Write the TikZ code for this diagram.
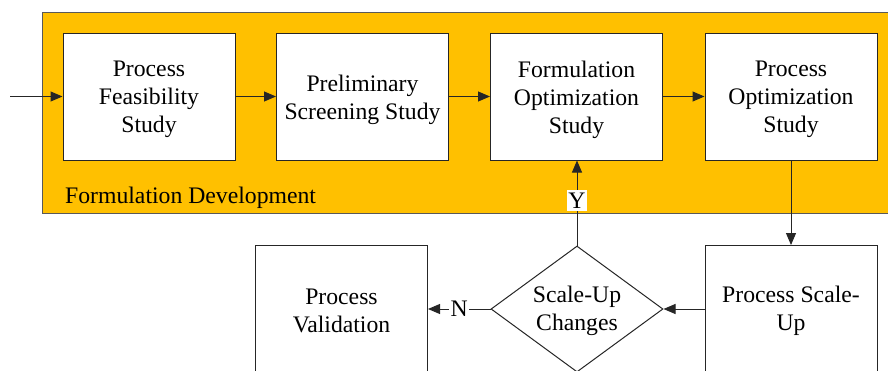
\documentclass[tikz,border=0pt]{standalone}
\usepackage{fontspec}
\setmainfont{Liberation Serif}
\usetikzlibrary{arrows.meta,shapes.geometric}
\definecolor{devorange}{HTML}{FFC000}
\tikzset{
  txt/.style={align=center, inner sep=0pt, font=\fontsize{23.7}{28}\selectfont},
  stepbox/.style={draw=black!85, fill=white, line width=1pt, minimum width=172pt, minimum height=127pt, inner sep=0pt},
  decision/.style={draw=black!85, fill=white, line width=1pt, diamond, minimum width=172pt, minimum height=126pt, inner sep=0pt},
  conn/.style={line width=1pt, draw=black!85, -{Triangle[length=12pt,width=10pt]}},
  tag/.style={fill=white, inner xsep=1.5pt, inner ysep=3pt, font=\fontsize{23.7}{28}\selectfont}
}
\begin{document}
\begin{tikzpicture}[x=1pt,y=-1pt]
\useasboundingbox (0,0) rectangle (888,370);
\clip (0,0) rectangle (888,370);
\node[draw=black!65, fill=devorange, line width=1pt, minimum width=870pt, minimum height=201pt, anchor=north west, inner sep=0pt] (dev) at (42,12) {};
\node[anchor=west, txt] (devlabel) at (65,198) {Formulation Development};
\node[stepbox, label={[txt, yshift=-3pt]center:Process\\Feasibility\\Study}] (b1) at (149,96.5) {};
\node[stepbox, label={[txt, yshift=-3pt]center:Preliminary\\Screening Study}] (b2) at (362.5,96.5) {};
\node[stepbox, label={[txt, yshift=-3pt]center:Formulation\\Optimization\\Study}] (b3) at (576.5,96.5) {};
\node[stepbox, label={[txt, yshift=-3pt]center:Process\\Optimization\\Study}] (b4) at (791,96.5) {};
\node[stepbox, label={[txt, yshift=-2pt]center:Process Scale-\\Up}] (su) at (791,309) {};
\node[stepbox, label={[txt, yshift=-2pt]center:Process\\Validation}] (pv) at (341.5,309) {};
\node[decision, label={[txt, yshift=-2pt]center:Scale-Up\\Changes}] (dia) at (577,309) {};
\coordinate (in) at (10,96.5);
\draw[conn] (in) -- (b1.west);
\draw[conn] (b1.east) -- (b2.west);
\draw[conn] (b2.east) -- (b3.west);
\draw[conn] (b3.east) -- (b4.west);
\draw[conn] (b4.south) -- (su.north);
\draw[conn] (su.west) -- (dia.east);
\draw[conn] (dia.north) -- node[tag, pos=0.53] (ytag) {Y} (dia.north |- b3.south);
\draw[conn] (dia.west) -- node[tag, inner ysep=1pt, pos=0.5] (ntag) {N} (pv.east);
\end{tikzpicture}
\end{document}
